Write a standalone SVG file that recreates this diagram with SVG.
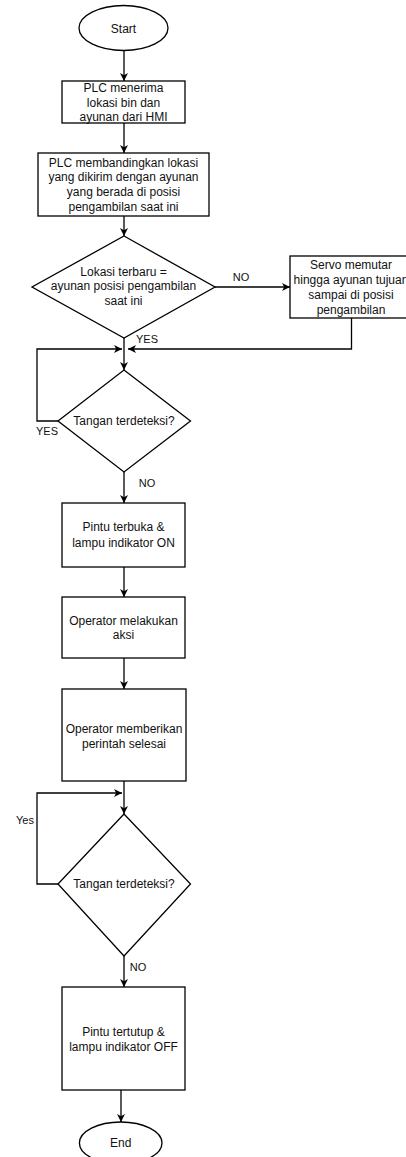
<svg xmlns="http://www.w3.org/2000/svg" width="406" height="1157" viewBox="0 0 406 1157">
<style>
.shape{fill:#fff;stroke:#000;stroke-width:1.3}
.t{font-family:"Liberation Sans",Arial,sans-serif;font-size:12px;fill:#111;text-anchor:middle}
.lbl{font-family:"Liberation Sans",Arial,sans-serif;font-size:11px;fill:#111;text-anchor:middle}
.edge{fill:none;stroke:#000;stroke-width:1.3;marker-end:url(#arr)}
</style>
<defs>
<marker id="arr" markerUnits="userSpaceOnUse" markerWidth="10" markerHeight="9" refX="8" refY="4" orient="auto">
<path d="M0,0 L8,4 L0,8 L2.2,4 z" fill="#000"/>
</marker>
</defs>
<rect width="406" height="1157" fill="#fff"/>
<g id="connectors">
<path class="edge" d="M124,50 V81"/>
<path class="edge" d="M124,123 V153"/>
<path class="edge" d="M124,216 V236"/>
<path class="edge" d="M215,287 H290"/>
<path class="edge" d="M351.5,318 V349 H128"/>
<path class="edge" d="M124,338 V370"/>
<path class="edge" d="M58,421 H37 V349 H122"/>
<path class="edge" d="M124,472 V503"/>
<path class="edge" d="M124,567 V597"/>
<path class="edge" d="M124,658 V689"/>
<path class="edge" d="M124,781 V814"/>
<path class="edge" d="M58,884 H37 V793 H122"/>
<path class="edge" d="M124,956 V987"/>
<path class="edge" d="M121,1090 V1122"/>
<text class="lbl" x="241" y="281">NO</text>
<text class="lbl" x="147" y="342.5">YES</text>
<text class="lbl" x="47" y="435">YES</text>
<text class="lbl" x="147" y="487">NO</text>
<text class="lbl" x="25" y="824">Yes</text>
<text class="lbl" x="138" y="971">NO</text>
</g>
<g id="start">
<ellipse class="shape" cx="123.5" cy="28" rx="44.5" ry="22.5"/>
<text class="t" x="123.5" y="32.5">Start</text>
</g>
<g id="receive">
<rect class="shape" x="62" y="81" width="123" height="42"/>
<text class="t" x="123.5" y="92">PLC menerima</text>
<text class="t" x="123.5" y="106.5">lokasi bin dan</text>
<text class="t" x="123.5" y="121">ayunan dari HMI</text>
</g>
<g id="compare">
<rect class="shape" x="38" y="153" width="171" height="63"/>
<text class="t" x="123.5" y="166.5">PLC membandingkan lokasi</text>
<text class="t" x="123.5" y="181.3">yang dikirim dengan ayunan</text>
<text class="t" x="123.5" y="196.2">yang berada di posisi</text>
<text class="t" x="123.5" y="211">pengambilan saat ini</text>
</g>
<g id="decision1">
<path class="shape" d="M124,236 L215,287 L124,338 L32,287 Z"/>
<text class="t" x="123.5" y="276">Lokasi terbaru =</text>
<text class="t" x="123.5" y="290">ayunan posisi pengambilan</text>
<text class="t" x="123.5" y="304.5">saat ini</text>
</g>
<g id="servo">
<rect class="shape" x="290" y="256" width="122" height="62"/>
<text class="t" x="351" y="269">Servo memutar</text>
<text class="t" x="351" y="284">hingga ayunan tujuan</text>
<text class="t" x="351" y="298.5">sampai di posisi</text>
<text class="t" x="351" y="313.5">pengambilan</text>
</g>
<g id="decision2">
<path class="shape" d="M124,370 L190.5,421 L124,472 L58,421 Z"/>
<text class="t" x="124" y="425">Tangan terdeteksi?</text>
</g>
<g id="open">
<rect class="shape" x="62" y="503" width="123" height="64"/>
<text class="t" x="123.5" y="531">Pintu terbuka &amp;</text>
<text class="t" x="123.5" y="546.5">lampu indikator ON</text>
</g>
<g id="action">
<rect class="shape" x="62" y="597" width="123" height="61"/>
<text class="t" x="123.5" y="625">Operator melakukan</text>
<text class="t" x="123.5" y="639">aksi</text>
</g>
<g id="finish">
<rect class="shape" x="62" y="689" width="124" height="92"/>
<text class="t" x="124" y="732.5">Operator memberikan</text>
<text class="t" x="124" y="748">perintah selesai</text>
</g>
<g id="decision3">
<path class="shape" d="M124,814 L190.5,884 L124,956 L58,884 Z"/>
<text class="t" x="124" y="888">Tangan terdeteksi?</text>
</g>
<g id="close">
<rect class="shape" x="62" y="987" width="123" height="103"/>
<text class="t" x="123.5" y="1036">Pintu tertutup &amp;</text>
<text class="t" x="123.5" y="1051">lampu indikator OFF</text>
</g>
<g id="end">
<ellipse class="shape" cx="120.7" cy="1143" rx="41.3" ry="21"/>
<text class="t" x="120.7" y="1147">End</text>
</g>
</svg>
